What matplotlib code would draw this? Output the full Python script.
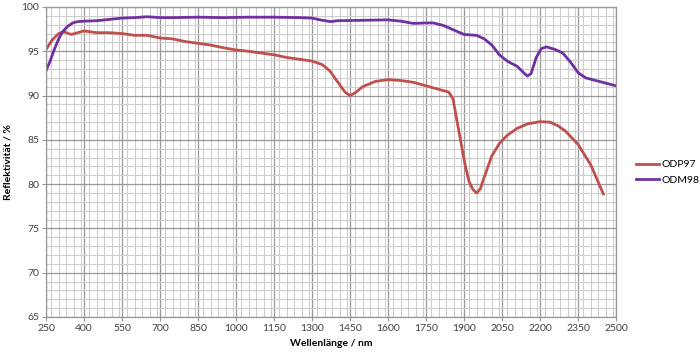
import matplotlib
matplotlib.use("Agg")
import matplotlib.pyplot as plt
from matplotlib.ticker import MultipleLocator

odp97_nm = [250, 275, 300, 320, 350, 375, 400, 450, 500, 550, 600, 650, 700, 750, 800, 850,
            900, 950, 1000, 1050, 1100, 1150, 1200, 1250, 1300, 1340, 1370, 1400, 1430, 1450,
            1470, 1500, 1550, 1600, 1650, 1700, 1750, 1800, 1840, 1857, 1875, 1890, 1905, 1920,
            1935, 1950, 1965, 1975, 1990, 2010, 2040, 2070, 2110, 2150, 2200, 2240, 2270, 2300,
            2350, 2400, 2450]
odp97_val = [95.2, 96.3, 97.0, 97.2, 96.9, 97.1, 97.3, 97.1, 97.1, 97.0, 96.8, 96.8, 96.5, 96.4, 96.1, 95.9,
             95.7, 95.4, 95.15, 95.0, 94.8, 94.6, 94.3, 94.1, 93.9, 93.5, 92.8, 91.6, 90.4, 90.0,
             90.3, 91.0, 91.6, 91.8, 91.7, 91.5, 91.1, 90.7, 90.4, 89.6, 86.7, 84.4, 82.1, 80.3,
             79.4, 79.0, 79.5, 80.4, 81.6, 83.2, 84.6, 85.5, 86.3, 86.8, 87.05, 87.0, 86.6, 86.0,
             84.5, 82.2, 78.9]

odm98_nm = [250, 265, 280, 300, 315, 335, 355, 375, 400, 450, 500, 550, 600, 650, 700, 750, 850,
            950, 1050, 1150, 1250, 1300, 1340, 1375, 1400, 1500, 1600, 1650, 1700, 1750, 1780,
            1820, 1860, 1900, 1950, 1980, 2010, 2040, 2070, 2110, 2135, 2150, 2165, 2185, 2205,
            2225, 2260, 2290, 2320, 2350, 2380, 2420, 2460, 2500]
odm98_val = [92.8, 93.8, 95.0, 96.4, 97.2, 97.8, 98.2, 98.35, 98.4, 98.45, 98.6, 98.75, 98.8, 98.9, 98.8, 98.8, 98.85,
             98.8, 98.85, 98.85, 98.8, 98.75, 98.5, 98.35, 98.45, 98.5, 98.55, 98.4, 98.15, 98.2, 98.2,
             97.9, 97.4, 96.9, 96.8, 96.4, 95.7, 94.6, 93.9, 93.3, 92.6, 92.2, 92.5, 94.3, 95.3,
             95.5, 95.2, 94.8, 93.8, 92.6, 92.0, 91.7, 91.4, 91.1]

series_names = ["ODP97", "ODM98"]
x_ticks = list(range(250, 2501, 150))
y_ticks = list(range(65, 101, 5))

plt.rcParams['font.family'] = ['Lato', 'DejaVu Sans']

fig = plt.figure(figsize=(7.0, 3.55), dpi=100)
ax = fig.add_axes([46/700, 1-317/355, (616-46)/700, (317-7)/355])

ax.plot(odp97_nm, odp97_val, color="#C0504D", lw=2.0, label=series_names[0], solid_joinstyle="round")
ax.plot(odm98_nm, odm98_val, color="#7030A0", lw=2.0, label=series_names[1], solid_joinstyle="round")

ax.set_xlim(250, 2500)
ax.set_ylim(65, 100)
ax.set_xticks(x_ticks)
ax.set_yticks(y_ticks)
ax.xaxis.set_minor_locator(MultipleLocator(30))
ax.yaxis.set_minor_locator(MultipleLocator(1))
ax.grid(which="major", color="#979797", lw=0.9)
ax.grid(which="minor", color="#cdcdcd", lw=0.8)
ax.set_axisbelow(True)
for s in ax.spines.values():
    s.set_color("#979797")
    s.set_linewidth(0.9)
ax.tick_params(which="major", length=3, color="#979797", labelsize=7.5, labelcolor="#404040", pad=2)
ax.tick_params(which="minor", length=0)

ax.set_xlabel("Wellenlänge / nm", fontsize=7.5, fontweight="bold", labelpad=4)
ax.set_ylabel("Reflektivität / %", fontsize=7.5, fontweight="bold", labelpad=6)

ax.legend(loc="upper left", bbox_to_anchor=(636/700, 1-160/355), bbox_transform=fig.transFigure,
          frameon=False, fontsize=7.5, handlelength=2.2, handletextpad=0.2, labelspacing=0.6,
          borderaxespad=0, borderpad=0)

fig.savefig("out.png", dpi=100)
